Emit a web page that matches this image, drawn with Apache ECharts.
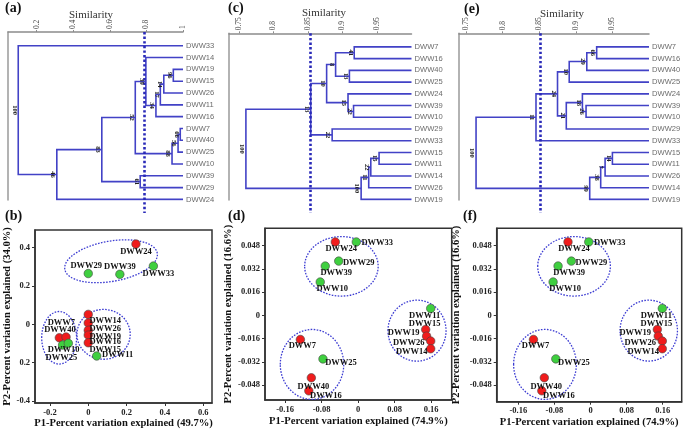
<!DOCTYPE html>
<html>
<head>
<meta charset="utf-8">
<script src="https://cdn.jsdelivr.net/npm/echarts@6/dist/echarts.min.js"></script>
<style>
  html, body { margin: 0; padding: 0; background: #fff; }
  #chart { width: 685px; height: 431px; }
</style>
</head>
<body>
<div id="chart"></div>
<script>
// == Dendrogram data =========================================================
// merges: [child1, child2, similarity, bootstrap]; ids < leaves.length are leaves,
// higher ids point at earlier merges in the same list

const simTicksA = [0.2, 0.4, 0.6, 0.8, 1]
const simTicksCE = [0.75, 0.8, 0.85, 0.9, 0.95]

const leavesA = ['DWW33', 'DWW14', 'DWW19', 'DWW15', 'DWW26', 'DWW11', 'DWW16',
  'DWW7', 'DWW40', 'DWW25', 'DWW10', 'DWW39', 'DWW29', 'DWW24']
const mergesA = [
  [2, 3, 0.947, '96'], [14, 4, 0.895, '14'], [15, 5, 0.876, '17'], [16, 6, 0.852, '34'],
  [1, 17, 0.797, '39'], [7, 8, 0.985, '66'], [19, 9, 0.973, '56'], [20, 10, 0.94, '88'],
  [18, 21, 0.739, '52'], [11, 12, 0.766, '61'], [22, 23, 0.556, '83'], [24, 13, 0.31, '46'],
  [0, 25, 0.099, '100']
]
const cutA = 0.79

const leavesC = ['DWW7', 'DWW16', 'DWW40', 'DWW25', 'DWW24', 'DWW39', 'DWW10',
  'DWW29', 'DWW33', 'DWW15', 'DWW11', 'DWW14', 'DWW26', 'DWW19']
const mergesC = [
  [0, 1, 0.917, '41'], [2, 3, 0.910, '13'], [14, 15, 0.890, '8'], [5, 6, 0.916, '22'],
  [4, 17, 0.908, '15'], [16, 18, 0.877, '10'], [7, 8, 0.885, '22'], [19, 20, 0.854, '13'],
  [9, 10, 0.953, '15'], [22, 11, 0.941, '22'], [23, 12, 0.938, '11'], [24, 13, 0.927, '100'],
  [21, 25, 0.760, '100']
]
const cutC = 0.853

const leavesE = ['DWW7', 'DWW16', 'DWW40', 'DWW25', 'DWW24', 'DWW39', 'DWW10',
  'DWW29', 'DWW33', 'DWW15', 'DWW11', 'DWW26', 'DWW14', 'DWW19']
const mergesE = [
  [0, 1, 0.9285, '66'], [14, 2, 0.915, '29'], [15, 3, 0.891, '10'], [5, 6, 0.914, '26'],
  [4, 17, 0.909, '18'], [18, 7, 0.887, '21'], [16, 19, 0.875, '24'], [20, 8, 0.8456, '11'],
  [9, 10, 0.950, '14'], [22, 11, 0.940, '7'], [23, 12, 0.934, '38'], [24, 13, 0.919, '99'],
  [21, 25, 0.7637, '100']
]
const cutE = 0.851

// == PCA data ================================================================

const pcaNamesB = ['DWW24', 'DWW29', 'DWW39', 'DWW33', 'DWW14', 'DWW26', 'DWW19',
  'DWW16', 'DWW15', 'DWW11', 'DWW7', 'DWW40', 'DWW10', 'DWW25']
const pcaXB = [0.249, 0.0, 0.165, 0.34, 0.0, 0.0, 0.0, 0.0, 0.0, 0.044, -0.151, -0.116, -0.134, -0.104]
const pcaYB = [0.419, 0.265, 0.261, 0.304, 0.052, 0.007, -0.031, -0.056, -0.096, -0.165, -0.07, -0.066, -0.108, -0.099]

const pcaNamesD = ['DWW24', 'DWW33', 'DWW29', 'DWW39', 'DWW10', 'DWW11', 'DWW15',
  'DWW19', 'DWW26', 'DWW14', 'DWW7', 'DWW25', 'DWW40', 'DWW16']
const pcaXD = [-0.050, -0.004, -0.0425, -0.072, -0.083, 0.159, 0.148, 0.150, 0.159, 0.159, -0.1265, -0.077, -0.1025, -0.108]
const pcaYD = [0.0506, 0.0506, 0.0374, 0.034, 0.023, 0.0048, -0.0097, -0.0143, -0.0177, -0.023, -0.0166, -0.030, -0.043, -0.052]

const redStrains = ['DWW24', 'DWW14', 'DWW26', 'DWW19', 'DWW16', 'DWW15', 'DWW7', 'DWW40']

// group ellipses: [cx, cy, rx, ry, tilt in degrees]
const ellipsesB = [[0.119, 0.329, 0.245, 0.105, 10], [-0.152, -0.07, 0.091, 0.137, 0], [0.08, -0.052, 0.139, 0.13, 0]]
const ellipsesD = [[-0.0366, 0.0338, 0.0805, 0.0205, 0], [0.129, -0.0105, 0.0636, 0.021, 0], [-0.101, -0.0338, 0.0695, 0.0241, 0]]

const pcaTicksB = [-0.2, 0, 0.2, 0.4, 0.6]
const pcaTickTextB = ['-0.2', '0', '0.2', '0.4', '0.6']
const pcaYTicksB = [-0.4, -0.2, 0, 0.2, 0.4]
const pcaYTickTextB = ['-0.4', '0.2', '0', '0.2', '0.4']
const pcaTicksD = [-0.16, -0.08, 0, 0.08, 0.16]
const pcaTickTextD = ['-0.16', '-0.08', '0', '0.08', '0.16']
const pcaYTicksD = [-0.048, -0.032, -0.016, 0, 0.016, 0.032, 0.048]
const pcaYTickTextD = ['-0.048', '-0.032', '-0.016', '0', '0.016', '0.032', '0.048']

// == Styling ================================================================

const SERIF = '"Liberation Serif", "DejaVu Serif", serif'
const SANS = '"Liberation Sans", Arial, sans-serif'
const TREE_BLUE = '#4242c6'
const LEAF_MIN = -1.16
const LEAF_MAX = 13.05

// label centre offset from point centre, in px
const labelOffsetB = {
  DWW24: [0, 8], DWW29: [-2, -8], DWW39: [0, -8], DWW33: [5, 8],
  DWW14: [17, 6], DWW26: [17, 6], DWW19: [17, 6], DWW16: [17, 7], DWW15: [17, 7],
  DWW11: [21, -1], DWW7: [2, -15], DWW40: [-6, -7], DWW10: [1, 5], DWW25: [-7, 14]
}
const labelOffsetD = {
  DWW24: [6, 7], DWW33: [21, 1], DWW29: [20, 2], DWW39: [11, 7], DWW10: [12, 7],
  DWW11: [-6, 7], DWW15: [-1, -6], DWW19: [-23, -3], DWW26: [-22, 2], DWW14: [-19, 3],
  DWW7: [2, 6], DWW25: [18, 4], DWW40: [2, 9], DWW16: [17, 5]
}

// == Builders ===============================================================

function buildTree (leaves, merges) {
  const pos = leaves.map((_, i) => [1, i])
  const segs = []
  const boots = []
  merges.forEach(([a, b, s, boot]) => {
    const pa = pos[a]
    const pb = pos[b]
    segs.push({coords: [[pa[0], pa[1]], [s, pa[1]], [s, pb[1]], [pb[0], pb[1]]]})
    const y = (pa[1] + pb[1]) / 2
    pos.push([s, y])
    boots.push([s, y, boot])
  })
  return {segs, boots}
}

function treeSeries (idx, leaves, merges, cut) {
  const tree = buildTree(leaves, merges)
  return [
    {
      type: 'lines', coordinateSystem: 'cartesian2d', xAxisIndex: idx, yAxisIndex: idx,
      polyline: true, silent: true, data: tree.segs,
      lineStyle: {color: TREE_BLUE, width: 1.6, opacity: 1}
    },
    {
      type: 'lines', coordinateSystem: 'cartesian2d', xAxisIndex: idx, yAxisIndex: idx,
      silent: true, clip: false, z: 5,
      data: [{coords: [[cut, LEAF_MIN], [cut, 14.15]]}],
      lineStyle: {color: '#2a2ab8', width: 2.6, type: [2.4, 2.2], opacity: 1}
    },
    {
      type: 'scatter', xAxisIndex: idx, yAxisIndex: idx, symbolSize: 0, silent: true,
      data: leaves.map((name, i) => ({name, value: [1, i]})),
      label: {show: true, position: 'right', distance: 3, formatter: '{b}',
        fontFamily: SANS, fontSize: 7.6, color: '#444'}
    },
    {
      type: 'custom', xAxisIndex: idx, yAxisIndex: idx, silent: true, clip: false, z: 6,
      data: tree.boots.map(b => [b[0], b[1]]),
      renderItem: (params, api) => {
        const c = api.coord([api.value(0), api.value(1)])
        return {
          type: 'text', x: c[0] - 4, y: c[1], rotation: -Math.PI / 2,
          style: {text: tree.boots[params.dataIndex][2], align: 'center', verticalAlign: 'middle',
            font: 'bold 6.5px ' + SERIF, fill: '#222'}
        }
      }
    }
  ]
}

function pcaSeries (idx, names, xs, ys, ellipses, offsets) {
  return [
    {
      type: 'custom', xAxisIndex: idx, yAxisIndex: idx, silent: true, clip: false,
      data: ellipses,
      renderItem: (params, api) => {
        const c = api.coord([api.value(0), api.value(1)])
        const s = api.size([api.value(2), api.value(3)])
        return {
          type: 'ellipse', x: c[0], y: c[1], rotation: api.value(4) * Math.PI / 180,
          shape: {cx: 0, cy: 0, rx: s[0], ry: s[1]},
          style: {fill: null, stroke: '#3c3cd2', lineWidth: 1.3, lineDash: [1.6, 1.4]}
        }
      }
    },
    {
      type: 'scatter', xAxisIndex: idx, yAxisIndex: idx, symbolSize: 8.5, silent: true, z: 4,
      data: names.map((name, i) => ({
        name,
        value: [xs[i], ys[i]],
        itemStyle: {color: redStrains.includes(name) ? '#f01c1c' : '#3fcf3f'},
        label: {offset: offsets[name]}
      })),
      itemStyle: {borderColor: '#444', borderWidth: 0.6, opacity: 1},
      label: {show: true, position: 'inside', formatter: '{b}', fontFamily: SERIF,
        fontWeight: 'bold', fontSize: 8.5, color: '#111'}
    }
  ]
}

function simAxis (gridIndex, min, ticks) {
  return {
    type: 'value', gridIndex, position: 'top', min, max: 1,
    axisLine: {show: true, onZero: false, lineStyle: {color: '#8c8c8c', width: 1.5}},
    axisTick: {show: true, customValues: ticks, length: 2, lineStyle: {color: '#8c8c8c'}},
    axisLabel: {customValues: ticks, rotate: -90, margin: 3, fontFamily: SERIF, fontSize: 7.5,
      color: '#444', formatter: v => String(v)},
    splitLine: {show: false}
  }
}

function leafAxis (gridIndex) {
  return {
    type: 'value', gridIndex, inverse: true, min: LEAF_MIN, max: LEAF_MAX,
    axisLine: {show: true, onZero: false, lineStyle: {color: '#9a9a9a', width: 1.5}},
    axisTick: {show: false}, axisLabel: {show: false}, splitLine: {show: false}
  }
}

function pcaAxis (gridIndex, min, max, ticks, texts, name, gap) {
  return {
    type: 'value', gridIndex, min, max, name, nameLocation: 'middle', nameGap: gap,
    nameTextStyle: {fontFamily: SERIF, fontWeight: 'bold', fontSize: 10.6, color: '#111'},
    axisLine: {show: true, onZero: false, lineStyle: {color: '#333', width: 1.5}},
    axisTick: {show: true, customValues: ticks, length: 3, lineStyle: {color: '#333'}},
    axisLabel: {customValues: ticks, margin: 5, fontFamily: SERIF,
      fontWeight: 'bold', fontSize: 8.5, color: '#222',
      formatter: v => {
        const i = ticks.findIndex(t => Math.abs(t - v) < 1e-9)
        return i < 0 ? '' : texts[i]
      }},
    splitLine: {show: false}
  }
}

const panelText = (text, x, y) => ({
  type: 'text', x, y,
  style: {text, font: 'bold 14px ' + SERIF, fill: '#111', verticalAlign: 'top'}
})
const simText = (x, y) => ({
  type: 'text', x, y,
  style: {text: 'Similarity', font: '11px ' + SERIF, fill: '#333', align: 'center', verticalAlign: 'middle'}
})

const P1_B = 'P1-Percent variation explained (49.7%)'
const P2_B = 'P2-Percent variation explained (34.0%)'
const P1_D = 'P1-Percent variation explained (74.9%)'
const P2_D = 'P2-Percent variation explained (16.6%)'

const option = {
  animation: false,
  backgroundColor: '#fff',
  grid: [
    {left: 8, top: 32, width: 175, height: 168},
    {left: 229, top: 33.3, width: 182.5, height: 166.7},
    {left: 459, top: 33.3, width: 190, height: 166.7},
    {left: 35, top: 230, width: 177, height: 173, show: true, borderColor: '#333', borderWidth: 1.5},
    {left: 265, top: 228.3, width: 186.7, height: 171.7, show: true, borderColor: '#333', borderWidth: 1.5},
    {left: 496.7, top: 228.3, width: 185, height: 173.4, show: true, borderColor: '#333', borderWidth: 1.5}
  ],
  xAxis: [
    simAxis(0, 0.043, simTicksA),
    simAxis(1, 0.7355, simTicksCE),
    simAxis(2, 0.7404, simTicksCE),
    pcaAxis(3, -0.278, 0.646, pcaTicksB, pcaTickTextB, P1_B, 14),
    pcaAxis(4, -0.204, 0.205, pcaTicksD, pcaTickTextD, P1_D, 16),
    pcaAxis(5, -0.208, 0.202, pcaTicksD, pcaTickTextD, P1_D, 15)
  ],
  yAxis: [
    leafAxis(0), leafAxis(1), leafAxis(2),
    pcaAxis(3, -0.41, 0.492, pcaYTicksB, pcaYTickTextB, P2_B, 21),
    pcaAxis(4, -0.0583, 0.060, pcaYTicksD, pcaYTickTextD, P2_D, 31),
    pcaAxis(5, -0.0595, 0.060, pcaYTicksD, pcaYTickTextD, P2_D, 35)
  ],
  graphic: [
    panelText('(a)', 5, 1), panelText('(b)', 5, 209),
    panelText('(c)', 228, 1), panelText('(d)', 228, 209),
    panelText('(e)', 464, 2), panelText('(f)', 463, 209),
    simText(91, 15), simText(324, 13), simText(562, 14)
  ],
  series: [
    ...treeSeries(0, leavesA, mergesA, cutA),
    ...treeSeries(1, leavesC, mergesC, cutC),
    ...treeSeries(2, leavesE, mergesE, cutE),
    ...pcaSeries(3, pcaNamesB, pcaXB, pcaYB, ellipsesB, labelOffsetB),
    ...pcaSeries(4, pcaNamesD, pcaXD, pcaYD, ellipsesD, labelOffsetD),
    ...pcaSeries(5, pcaNamesD, pcaXD, pcaYD, ellipsesD, labelOffsetD)
  ]
}

const myChart = echarts.init(document.getElementById('chart'))
myChart.setOption(option)
</script>
</body>
</html>
